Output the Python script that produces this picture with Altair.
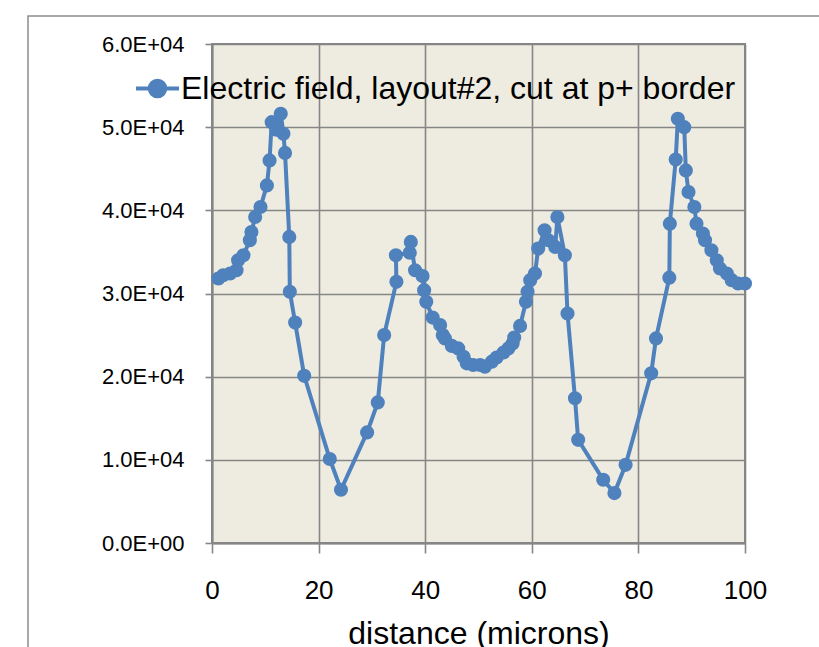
import altair as alt
import pandas as pd

# Electric field profile along the cut (distance in microns, field in V/cm)
distance = [
    1.2, 2.1, 3.4, 4.6, 4.9, 5.9, 7.1, 7.4, 8.1, 9.1,
    10.3, 10.8, 11.2, 12.1, 12.9, 13.4, 13.7, 14.5, 14.6, 15.6,
    17.3, 22.1, 24.2, 29.1, 31.1, 32.3, 34.6, 34.5, 37.1, 37.3,
    38.1, 39.5, 39.8, 40.2, 41.4, 42.8, 43.3, 43.7, 45.0, 46.2,
    47.2, 47.8, 49.0, 50.3, 51.2, 52.5, 53.4, 54.7, 55.6, 56.4,
    56.7, 57.8, 58.9, 59.2, 59.7, 60.6, 61.2, 62.4, 63.1, 64.4,
    64.8, 66.2, 66.7, 68.1, 68.7, 73.4, 75.5, 77.6, 82.4, 83.3,
    85.8, 85.9, 87.0, 87.4, 88.6, 88.9, 89.4, 90.5, 90.9, 92.1,
    92.5, 93.7, 94.7, 95.3, 96.6, 97.5, 98.7, 100.0,
]
field = [
    31800, 32200, 32400, 32800, 34000, 34600, 36400, 37400, 39200, 40400,
    43000, 46000, 50600, 49700, 51600, 49200, 46900, 36800, 30200, 26500,
    20100, 10100, 6400, 13300, 16900, 25000, 31400, 34600, 34900, 36200,
    32800, 32100, 30400, 29000, 27100, 26200, 25000, 24600, 23700, 23400,
    22400, 21600, 21400, 21400, 21200, 21800, 22300, 22900, 23400, 24000,
    24700, 26100, 29000, 30200, 31600, 32400, 35400, 37600, 36400, 35600,
    39200, 34600, 27600, 17400, 12400, 7600, 6000, 9400, 20400, 24600,
    31900, 38400, 46100, 51000, 50000, 44800, 42200, 40400, 38400, 37200,
    36400, 35200, 34000, 33000, 32400, 31600, 31200, 31200,
]
series_name = "Electric field, layout#2, cut at p+ border"
x_ticks = [0, 20, 40, 60, 80, 100]
y_ticks = [0, 10000, 20000, 30000, 40000, 50000, 60000]

df = pd.DataFrame({
    "distance": distance,
    "field": field,
    "order": list(range(len(distance))),
    "series": series_name,
})

BLUE = "#4F81BD"
GRID = "#868686"
FONT = "Liberation Sans"

# legend symbol: short line with a filled circle in the middle
legend_symbol = (
    "M-1,0L1,0M0.36,0A0.36,0.36,0,1,1,-0.36,0A0.36,0.36,0,1,1,0.36,0Z"
)

line = alt.Chart(df).mark_line(
    strokeWidth=4,
    point=alt.OverlayMarkDef(filled=True, size=200, opacity=1, color=BLUE),
).encode(
    x=alt.X(
        "distance:Q",
        scale=alt.Scale(domain=[0, 100], nice=False),
        axis=alt.Axis(
            values=x_ticks,
            title="distance (microns)",
            tickSize=10,
            labelPadding=24,
            labelFontSize=26,
            labelFlush=False,
            titleFontSize=32,
            titlePadding=15,
            titleFontWeight="normal",
        ),
    ),
    y=alt.Y(
        "field:Q",
        scale=alt.Scale(domain=[0, 60000], nice=False),
        axis=alt.Axis(
            values=y_ticks,
            title=None,
            tickSize=7,
            labelPadding=21,
            labelFontSize=22,
            labelExpr="datum.value == 0 ? '0.0E+00' : format(datum.value / 10000, '.1f') + 'E+04'",
        ),
    ),
    order="order:Q",
    color=alt.Color(
        "series:N",
        scale=alt.Scale(range=[BLUE]),
        legend=alt.Legend(
            title=None,
            orient="none",
            legendX=-78,
            legendY=21,
            symbolType=legend_symbol,
            symbolSize=1849,
            symbolStrokeWidth=4,
            symbolFillColor=BLUE,
            symbolStrokeColor=BLUE,
            labelFontSize=32,
            labelFont=FONT,
            labelColor="black",
            labelLimit=0,
            labelOffset=0,
            padding=0,
        ),
    ),
)

# outer chart-area frame
frame = alt.Chart(pd.DataFrame({"f": [0]})).mark_rect(
    filled=False, stroke="#8C8C8C", strokeWidth=1.5
).encode(
    x=alt.value(-184),
    y=alt.value(-28),
    x2=alt.value(760),
    y2=alt.value(760),
)

chart = alt.layer(frame, line).properties(
    width=533,
    height=499,
    autosize=alt.AutoSizeParams(type="none"),
    padding={"left": 212, "top": 44, "right": 74, "bottom": 104},
    background="white",
).configure_view(
    fill="#EEECE1", stroke=GRID, strokeWidth=2,
).configure_axis(
    grid=True,
    gridColor=GRID,
    gridWidth=1.6,
    domainColor=GRID,
    domainWidth=2,
    tickColor=GRID,
    tickWidth=1.6,
    labelFont=FONT,
    titleFont=FONT,
    labelColor="black",
    titleColor="black",
)

chart.save("out.html", embed_options={"renderer": "svg", "actions": False})
